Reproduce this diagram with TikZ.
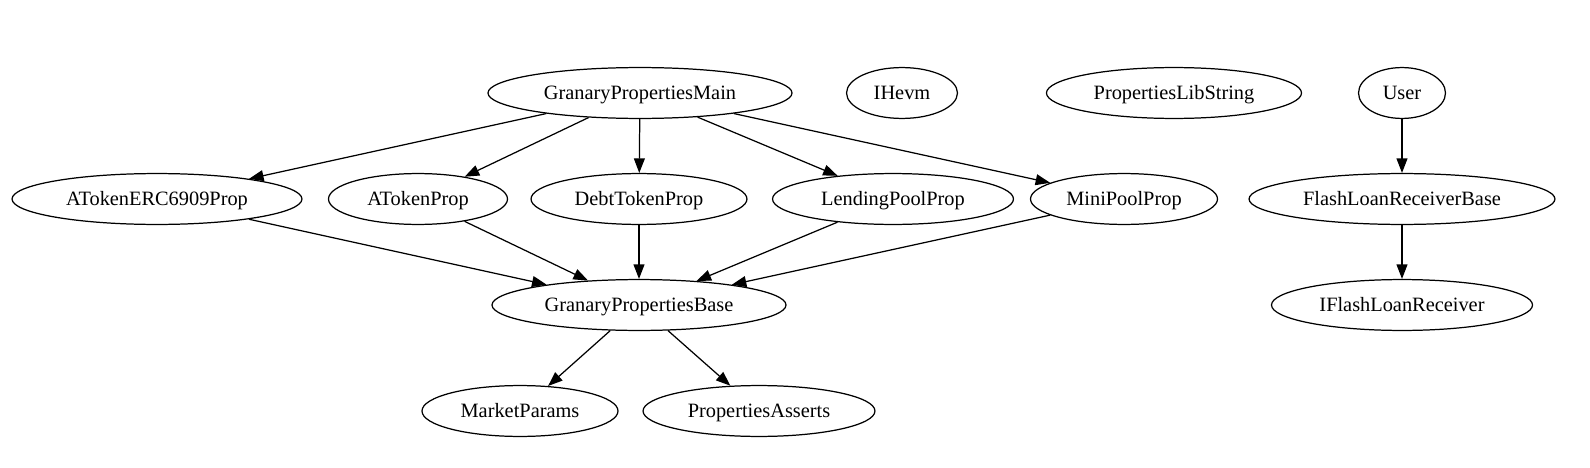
\documentclass[tikz,border=0pt]{standalone}
\usepackage{fontspec}
\setmainfont{Liberation Serif}
\usetikzlibrary{shapes.geometric,arrows.meta}
\tikzset{
  nd/.style={ellipse, draw, line width=0.85pt, inner sep=0pt, minimum height=35pt,
    text height=12pt, text depth=3pt,
    font=\fontsize{14}{16}\selectfont},
  edge/.style={draw, line width=0.85pt, -{Triangle[length=10pt,width=7.5pt]}}
}
\begin{document}
\begin{tikzpicture}[x=0.6877pt,y=-0.6877pt]
\useasboundingbox (0,0) rectangle (1590,468);
% row 1
\node[nd, minimum width=209.1pt] (main) at (640,93) {GranaryPropertiesMain};
\node[nd, minimum width=76.3pt] (ihevm) at (902,93) {IHevm};
\node[nd, minimum width=175.4pt] (libstr) at (1174,93) {PropertiesLibString};
\node[nd, minimum width=59.8pt] (user) at (1402,93) {User};
% row 2
\node[nd, minimum width=199.4pt] (aerc) at (157,199) {ATokenERC6909Prop};
\node[nd, minimum width=123.1pt] (atok) at (418,199) {ATokenProp};
\node[nd, minimum width=148.5pt] (debt) at (639,199) {DebtTokenProp};
\node[nd, minimum width=165.7pt] (lend) at (893,199) {LendingPoolProp};
\node[nd, minimum width=128.6pt] (mini) at (1124,199) {MiniPoolProp};
\node[nd, minimum width=210.4pt] (flb) at (1402,199) {FlashLoanReceiverBase};
% row 3
\node[nd, minimum width=202.2pt] (base) at (639,305) {GranaryPropertiesBase};
\node[nd, minimum width=179.5pt] (ifl) at (1402,305) {IFlashLoanReceiver};
% row 4
\node[nd, minimum width=134.8pt] (market) at (520,411) {MarketParams};
\node[nd, minimum width=159.5pt] (asserts) at (759,411) {PropertiesAsserts};
% edges
\path[edge] (main) -- (aerc);
\path[edge] (main) -- (atok);
\path[edge] (main) -- (debt);
\path[edge] (main) -- (lend);
\path[edge] (main) -- (mini);
\path[edge] (aerc) -- (base);
\path[edge] (atok) -- (base);
\path[edge] (debt) -- (base);
\path[edge] (lend) -- (base);
\path[edge] (mini) -- (base);
\path[edge] (base) -- (market);
\path[edge] (base) -- (asserts);
\path[edge] (user) -- (flb);
\path[edge] (flb) -- (ifl);
\end{tikzpicture}
\end{document}
